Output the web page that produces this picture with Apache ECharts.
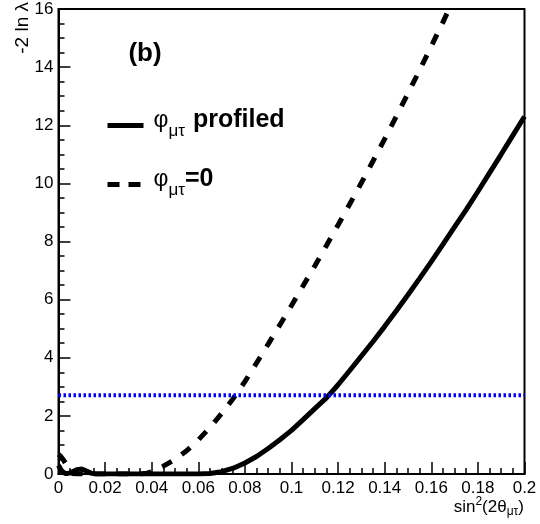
<!DOCTYPE html>
<html>
<head>
<meta charset="utf-8">
<script src="https://cdn.jsdelivr.net/npm/echarts@6/dist/echarts.min.js"></script>
<style>
html,body{margin:0;padding:0;background:#fff;}
#c{width:540px;height:524px;}
</style>
</head>
<body>
<div id="c"></div>
<script>
// sin^2(2 theta_mu tau) grid
var xVals = [0, 0.001, 0.002, 0.003, 0.004, 0.005, 0.006, 0.008, 0.010, 0.012, 0.014, 0.016,
  0.02, 0.025, 0.03, 0.035, 0.038, 0.04, 0.045, 0.05, 0.055, 0.06, 0.065, 0.07, 0.075, 0.08,
  0.085, 0.09, 0.095, 0.1, 0.105, 0.11, 0.115, 0.12, 0.125, 0.13, 0.135, 0.14, 0.145, 0.15,
  0.155, 0.16, 0.165, 0.17, 0.175, 0.18, 0.185, 0.19, 0.195, 0.2];
// -2 ln lambda, phi profiled (solid)
var profiled = [0.3, 0.15, 0.06, 0.02, 0.02, 0.04, 0.08, 0.15, 0.17, 0.1, 0.03, 0,
  0, 0, 0, 0, 0, 0, 0, 0, 0, 0, 0.02, 0.08, 0.2, 0.38,
  0.6, 0.88, 1.18, 1.5, 1.87, 2.25, 2.62, 3.07, 3.56, 4.06, 4.56, 5.08, 5.62, 6.17,
  6.73, 7.31, 7.9, 8.5, 9.1, 9.72, 10.36, 11.0, 11.65, 12.3];
// -2 ln lambda, phi = 0 (dashed)
var phiZero = [0.68, 0.6, 0.5, 0.37, 0.22, 0.09, 0.02, 0, 0, 0, 0, 0,
  0, 0, 0, 0, 0.03, 0.08, 0.27, 0.5, 0.8, 1.17, 1.6, 2.08, 2.6, 3.18,
  3.82, 4.47, 5.13, 5.8, 6.48, 7.16, 7.86, 8.57, 9.29, 10.02, 10.77, 11.53, 12.31, 13.1,
  13.9, 14.72, 15.55, 16.4, null, null, null, null, null, null];
// 90% CL reference line
var clX = [0, 0.2];
var clLevel = 2.71;

var xTicks = {min: 0, max: 0.2, interval: 0.02};
var yTicks = {min: 0, max: 16, interval: 2};

function pairs(xs, ys) {
  var out = [];
  for (var i = 0; i < xs.length; i++) { if (ys[i] !== null) out.push([xs[i], ys[i]]); }
  return out;
}

var FONT = "'Liberation Sans', Arial, Helvetica, sans-serif";
var chart = echarts.init(document.getElementById('c'), null, {renderer: 'canvas'});

var axisCommon = {
  axisLine: {show: true, onZero: false, lineStyle: {color: '#000', width: 2}},
  splitLine: {show: false},
  axisTick: {show: true, inside: true, length: 12, lineStyle: {color: '#000', width: 1.5}},
  minorTick: {show: true, splitNumber: 4, length: 6, lineStyle: {color: '#000', width: 1.5}}
};

var legendText = {
  fontFamily: FONT, color: '#000',
  rich: {
    phi: {fontSize: 23, fontFamily: FONT, color: '#000', padding: [0, 0, 10, 5]},
    sub: {fontSize: 17, fontFamily: FONT, color: '#000', padding: [12, 0, 0, 0]},
    b: {fontSize: 25, fontWeight: 'bold', fontFamily: FONT, color: '#000', padding: [0, 0, 10, 0]},
    bs: {fontSize: 25, fontWeight: 'bold', fontFamily: FONT, color: '#000', padding: [0, 0, 10, 8]}
  }
};

chart.setOption({
  animation: false,
  backgroundColor: '#fff',
  grid: {left: 58.5, right: 15.5, top: 9, bottom: 50, show: true, borderColor: '#000', borderWidth: 2, containLabel: false},
  xAxis: Object.assign({type: 'value', min: xTicks.min, max: xTicks.max, interval: xTicks.interval}, axisCommon, {
    axisLabel: {color: '#000', fontSize: 17, fontFamily: FONT, margin: 6, showMinLabel: true, showMaxLabel: true}
  }),
  yAxis: Object.assign({type: 'value', min: yTicks.min, max: yTicks.max, interval: yTicks.interval}, axisCommon, {
    axisLabel: {color: '#000', fontSize: 17, fontFamily: FONT, margin: 5, showMinLabel: true, showMaxLabel: true}
  }),
  legend: [
    {data: ['profiled'], left: 105, top: 108, padding: 0, orient: 'vertical', itemWidth: 36, itemHeight: 30,
     itemStyle: {opacity: 0}, lineStyle: {width: 5, type: 'solid', color: '#000'},
     textStyle: legendText, formatter: function () { return '{phi|φ}{sub|μτ}{bs|profiled}'; }},
    {data: ['zero'], left: 105, top: 167, padding: 0, orient: 'vertical', itemWidth: 36, itemHeight: 30,
     itemStyle: {opacity: 0}, lineStyle: {width: 5, type: [12, 9], color: '#000'},
     textStyle: legendText, formatter: function () { return '{phi|φ}{sub|μτ}{b|=0}'; }}
  ],
  series: [
    {name: 'profiled', type: 'line', data: pairs(xVals, profiled), showSymbol: false, symbol: 'none',
     lineStyle: {color: '#000', width: 5, type: 'solid'}, itemStyle: {color: '#000'},
     smooth: false, clip: true},
    {name: 'zero', type: 'line', data: pairs(xVals, phiZero), showSymbol: false, symbol: 'none',
     lineStyle: {color: '#000', width: 5, type: [11, 12]}, itemStyle: {color: '#000'},
     smooth: false, clip: true},
    {name: 'cl', type: 'line', data: pairs(clX, [clLevel, clLevel]), showSymbol: false, symbol: 'none',
     lineStyle: {color: '#0000ff', width: 4, type: [2.5, 2.5]}, clip: true, z: 5}
  ],
  graphic: [
    {type: 'text', x: 23, y: 2, rotation: Math.PI / 2,
     style: {text: '-2 ln λ', font: '19px ' + FONT, fill: '#000', align: 'right', verticalAlign: 'middle'}},
    {type: 'text', x: 145, y: 54,
     style: {text: '(b)', font: 'bold 26px ' + FONT, fill: '#000', align: 'center', verticalAlign: 'middle'}},
    {type: 'text', x: 524, y: 507,
     style: {text: 'sin{sup|2}(2θ{sub|μτ})', font: '17px ' + FONT, fill: '#000', align: 'right', verticalAlign: 'middle',
       rich: {sup: {fontSize: 12, fontFamily: FONT, padding: [0, 0, 10, 0]}, sub: {fontSize: 12, fontFamily: FONT, padding: [10, 0, 0, 0]}}}}
  ]
});
</script>
</body>
</html>
